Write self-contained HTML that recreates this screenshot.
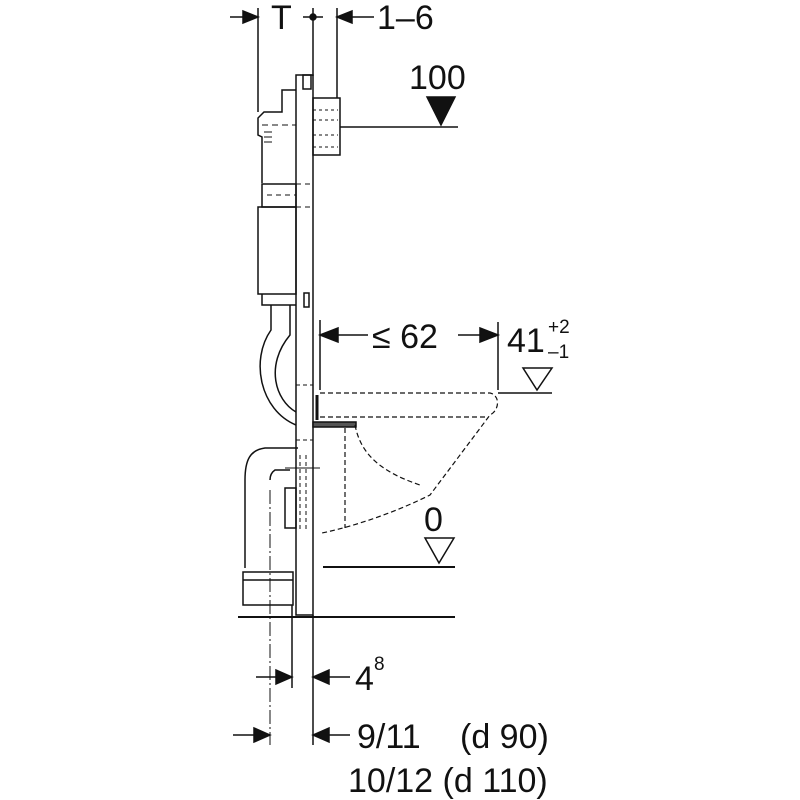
<!DOCTYPE html>
<html><head><meta charset="utf-8"><style>
html,body{margin:0;padding:0;background:#fff}
svg{display:block}
text{font-family:"Liberation Sans",sans-serif;fill:#111}
</style></head><body>
<svg width="800" height="800" viewBox="0 0 800 800" xmlns="http://www.w3.org/2000/svg">
<g stroke="#111" fill="none" stroke-width="1.5">
<!-- top dimension -->
<line x1="230" y1="17" x2="258" y2="17"/>
<polygon points="258,17 243,11 243,23" fill="#111"/>
<line x1="258" y1="8" x2="258" y2="112"/>
<line x1="303" y1="17" x2="323" y2="17"/>
<circle cx="313" cy="17" r="3" fill="#111"/>
<line x1="313" y1="8" x2="313" y2="76"/>
<line x1="337" y1="8" x2="337" y2="98"/>
<line x1="337" y1="17" x2="374" y2="17"/>
<polygon points="337,17 352,11 352,23" fill="#111"/>
<!-- 100 marker -->
<line x1="340" y1="127" x2="458" y2="127"/>
<polygon points="427,97 455,97 441,125" fill="#111"/>
<!-- frame -->
<rect x="296" y="75" width="17" height="540"/>
<rect x="303" y="75" width="8" height="14"/>
<rect x="313" y="98" width="27" height="57"/>
<path d="M313 110 h25 M313 120 h25 M313 135 h25 M313 147 h25" stroke-dasharray="3 3" stroke-width="1"/>
<!-- cistern -->
<path d="M296 90 H282 V112 H264 L258 118 V135 L262 137 V183"/>
<path d="M262 125 H296" stroke-dasharray="6 4" stroke-width="1"/>
<path d="M264 132 h8 M264 137 h8 M264 142 h8" stroke-width="1"/>
<rect x="262" y="184" width="34" height="23"/>
<path d="M267 195 H296 M296 184 H313 M296 207 H313" stroke-dasharray="5 4" stroke-width="1"/>
<rect x="258" y="207" width="38" height="87"/>
<path d="M262 294 V305 H296"/>
<rect x="304" y="293" width="5" height="14"/>
<!-- flush pipe curve -->
<path d="M271 305 V330 C250 360 260 410 296 425"/>
<path d="M290 305 V335 C265 365 275 400 296 412"/>
<path d="M296 385 H313 M296 440 H313" stroke-dasharray="4 3" stroke-width="1"/>
<!-- bolt -->
<rect x="313" y="422" width="43" height="5" fill="#555"/>
<line x1="317" y1="395" x2="317" y2="420" stroke-width="3"/>
<!-- drain pipe -->
<path d="M298 448 H265 C250 450 245 460 245 480 V568"/>
<path d="M290 470 H275 C272 472 270 475 270 480"/>
<rect x="243" y="572" width="50" height="33"/>
<line x1="243" y1="580" x2="293" y2="580"/>
<line x1="270" y1="490" x2="270" y2="745" stroke-dasharray="14 3 2 3" stroke-width="1"/>
<rect x="285" y="488" width="11" height="40"/>
<path d="M300 455 V530 M306 455 V530 M313 450 V490" stroke-dasharray="4 3" stroke-width="1"/>
<line x1="285" y1="468" x2="320" y2="468" stroke-width="1"/>
<!-- bowl dashed -->
<path d="M320 393 H490 C500 395 500 410 490 415 L430 495 C400 510 360 525 322 533 M320 417 H485 M355 425 C360 450 375 470 420 485 M345 428 V528" stroke-dasharray="5 3" stroke-width="1.2"/>
<!-- 62 dim -->
<line x1="320" y1="320" x2="320" y2="390"/>
<line x1="498" y1="322" x2="498" y2="390"/>
<line x1="320" y1="335" x2="368" y2="335"/>
<line x1="458" y1="335" x2="498" y2="335"/>
<polygon points="320,335 338,328 338,342" fill="#111"/>
<polygon points="498,335 480,328 480,342" fill="#111"/>
<line x1="498" y1="393" x2="552" y2="393"/>
<polygon points="523,368 552,368 537,390" fill="#fff"/>
<!-- 0 marker -->
<line x1="323" y1="567" x2="455" y2="567" stroke-width="2"/>
<polygon points="425,538 454,538 439,563" fill="#fff"/>
<!-- floor -->
<line x1="238" y1="617" x2="455" y2="617" stroke-width="2"/>
<!-- bottom dims -->
<line x1="292" y1="605" x2="292" y2="688"/>
<line x1="313" y1="615" x2="313" y2="745"/>
<line x1="256" y1="677" x2="292" y2="677"/>
<polygon points="292,677 276,670 276,684" fill="#111"/>
<line x1="313" y1="677" x2="350" y2="677"/>
<polygon points="313,677 329,670 329,684" fill="#111"/>
<line x1="233" y1="735" x2="270" y2="735"/>
<polygon points="270,735 254,728 254,742" fill="#111"/>
<line x1="313" y1="735" x2="350" y2="735"/>
<polygon points="313,735 329,728 329,742" fill="#111"/>
</g>
<g font-size="34">
<text x="271" y="29">T</text>
<text x="377" y="29">1–6</text>
<text x="409" y="89">100</text>
<text x="372" y="348">≤ 62</text>
<text x="507" y="352">41</text>
<text x="424" y="531">0</text>
<text x="355" y="690">4</text>
<text x="357" y="748">9/11</text>
<text x="460" y="748">(d 90)</text>
<text x="348" y="792">10/12 (d 110)</text>
</g>
<text x="548" y="333" font-size="19">+2</text>
<text x="548" y="358" font-size="19">–1</text>
<text x="374" y="670" font-size="19">8</text>
</svg>
</body></html>
